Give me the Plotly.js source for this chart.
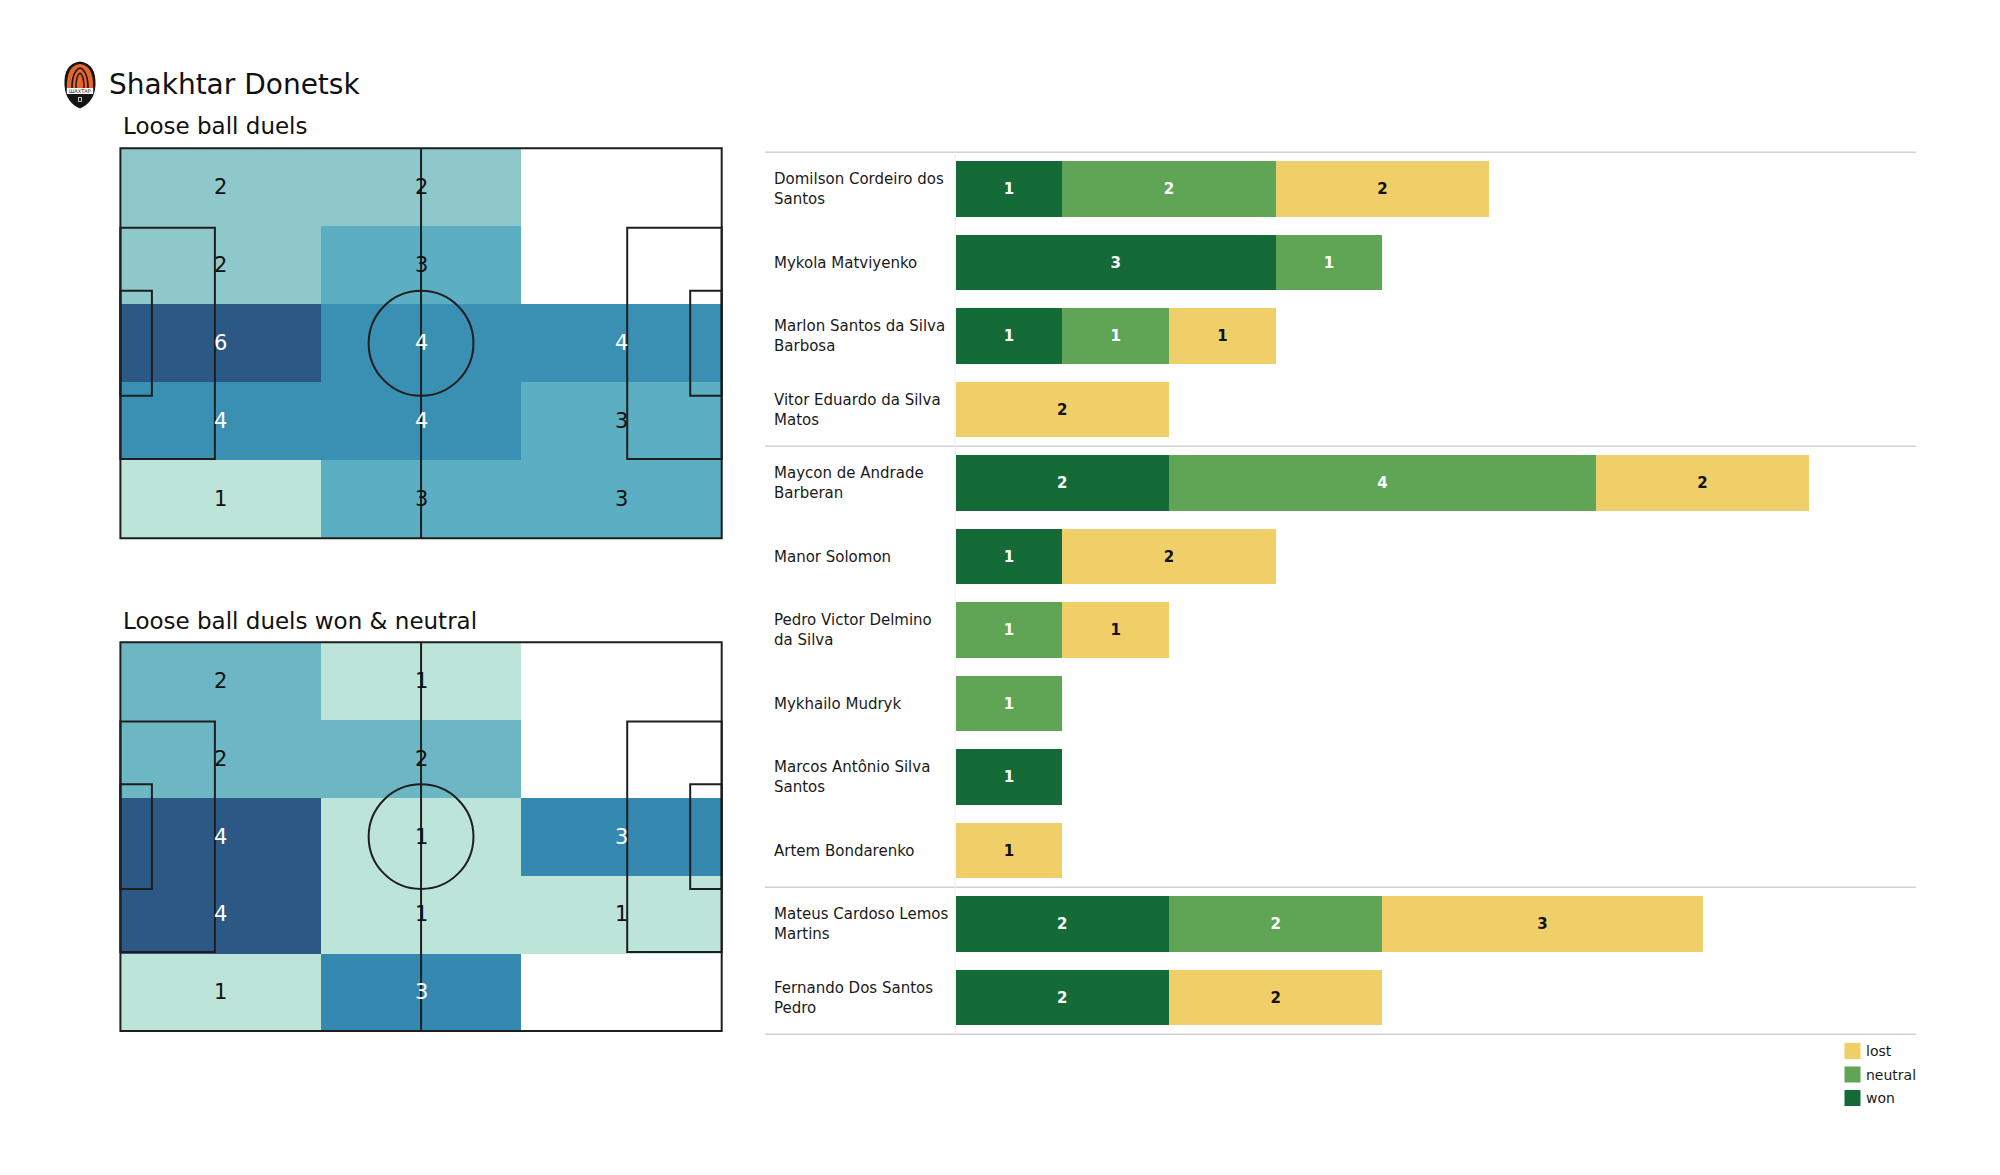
<!DOCTYPE html>
<html>
<head>
<meta charset="utf-8">
<script src="https://cdn.plot.ly/plotly-3.0.1.min.js"></script>
<style>
html,body{margin:0;padding:0;background:#ffffff;}
#chart{width:2000px;height:1175px;}
</style>
</head>
<body>
<div id="chart"></div>
<script>
// ---------------- DATA ----------------
const teamName = 'Shakhtar Donetsk';
const heatTitles = ['Loose ball duels', 'Loose ball duels won & neutral'];
// zone counts: rows top -> bottom, columns left -> right
const duelsAll = [
  [2, 2, 0],
  [2, 3, 0],
  [6, 4, 4],
  [4, 4, 3],
  [1, 3, 3]
];
const duelsWonNeutral = [
  [2, 1, 0],
  [2, 2, 0],
  [4, 1, 3],
  [4, 1, 1],
  [1, 3, 0]
];
const players = [
  'Domilson Cordeiro dos Santos',
  'Mykola Matviyenko',
  'Marlon Santos da Silva Barbosa',
  'Vitor Eduardo da Silva Matos',
  'Maycon de Andrade Barberan',
  'Manor Solomon',
  'Pedro Victor Delmino da Silva',
  'Mykhailo Mudryk',
  'Marcos Antônio Silva Santos',
  'Artem Bondarenko',
  'Mateus Cardoso Lemos Martins',
  'Fernando Dos Santos Pedro'
];
const won     = [1, 3, 1, 0, 2, 1, 0, 0, 1, 0, 2, 2];
const neutral = [2, 1, 1, 0, 4, 0, 1, 1, 0, 0, 2, 0];
const lost    = [2, 0, 1, 2, 2, 2, 1, 0, 0, 1, 3, 2];
const groupSizes = [4, 6, 2];
const seriesNames = ['won', 'neutral', 'lost'];

// ---------------- STYLE / LAYOUT CONSTANTS ----------------
const W = 2000, H = 1175;
const FONT = 'DejaVu Sans, Verdana, sans-serif';
const seriesColors = { won: '#156b37', neutral: '#60a556', lost: '#f0cf68' };
const seriesText = { won: '#ffffff', neutral: '#ffffff', lost: '#111111' };
const heatScale = [
  [0, '#bce4d9'], [0.2, '#8ec8ca'], [0.333, '#6db7c4'], [0.4, '#5caec3'],
  [0.6, '#3990b3'], [0.667, '#3589b0'], [1, '#2c5886']
];
const PL = 105, PW = 68, PAD = 0.6;
const pitchPx = [
  { l: 120.4, r: 721.7, t: 148.3, b: 538.3 },
  { l: 120.4, r: 721.7, t: 642.3, b: 1031.0 }
];
const barPx = { l: 955.6, r: 1916, t: 152.3, b: 1034.3, lineL: 765 };
const barMax = 9;

const fx = p => p / W;
const fy = p => 1 - p / H;

function wrap(s, w) {
  const words = s.split(' ');
  const lines = [];
  let cur = '';
  for (const wd of words) {
    if (!cur) cur = wd;
    else if ((cur + ' ' + wd).length <= w) cur += ' ' + wd;
    else { lines.push(cur); cur = wd; }
  }
  if (cur) lines.push(cur);
  return lines.join('<br>');
}

const traces = [];
const shapes = [];
const annotations = [];
const layout = {
  width: W, height: H,
  margin: { l: 0, r: 0, t: 0, b: 0 },
  paper_bgcolor: '#ffffff', plot_bgcolor: 'rgba(0,0,0,0)',
  showlegend: false, hovermode: false,
  font: { family: FONT, color: '#111111' },
  barmode: 'stack', bargap: 0.25
};

// ---------------- HEATMAPS ----------------
[duelsAll, duelsWonNeutral].forEach((grid, k) => {
  const px = pitchPx[k];
  const sx = (px.r - px.l) / PL, sy = (px.b - px.t) / PW;
  const xa = k === 0 ? 'x' : 'x2', ya = k === 0 ? 'y' : 'y2';
  const xName = k === 0 ? 'xaxis' : 'xaxis2', yName = k === 0 ? 'yaxis' : 'yaxis2';
  const nR = grid.length, nC = grid[0].length;
  const xc = Array.from({ length: nC }, (_, j) => PL / nC * (j + 0.5));
  const yc = Array.from({ length: nR }, (_, i) => PW / nR * (i + 0.5));
  const flat = grid.flat().filter(v => v > 0);
  const zmin = Math.min(...flat), zmax = Math.max(...flat);
  traces.push({
    type: 'heatmap', x: xc, y: yc,
    z: grid.map(r => r.map(v => v > 0 ? v : null)),
    colorscale: heatScale, zmin: zmin, zmax: zmax, showscale: false,
    hoverinfo: 'skip', xaxis: xa, yaxis: ya
  });
  layout[xName] = {
    domain: [fx(px.l - PAD * sx), fx(px.r + PAD * sx)], range: [-PAD, PL + PAD],
    visible: false, anchor: ya, fixedrange: true
  };
  layout[yName] = {
    domain: [fy(px.b + PAD * sy), fy(px.t - PAD * sy)], range: [PW + PAD, -PAD],
    visible: false, anchor: xa, fixedrange: true
  };
  // cell labels
  grid.forEach((row, i) => row.forEach((v, j) => {
    if (v <= 0) return;
    const f = (v - zmin) / (zmax - zmin);
    annotations.push({
      xref: xa, yref: ya, x: xc[j], y: yc[i], text: String(v), showarrow: false,
      xanchor: 'center', yanchor: 'middle',
      font: { family: FONT, size: 21, color: f > 0.5 ? '#ffffff' : '#111111' }
    });
  }));
  // pitch markings
  const ln = { color: '#1e1e1e', width: 2 };
  const add = (type, x0, y0, x1, y1) => shapes.push({ type, xref: xa, yref: ya, x0, y0, x1, y1, line: ln, fillcolor: 'rgba(0,0,0,0)', layer: 'above' });
  add('rect', 0, 0, PL, PW);
  add('line', PL / 2, 0, PL / 2, PW);
  add('circle', PL / 2 - 9.15, PW / 2 - 9.15, PL / 2 + 9.15, PW / 2 + 9.15);
  add('rect', 0, PW / 2 - 20.16, 16.5, PW / 2 + 20.16);
  add('rect', PL - 16.5, PW / 2 - 20.16, PL, PW / 2 + 20.16);
  add('rect', 0, PW / 2 - 9.16, 5.5, PW / 2 + 9.16);
  add('rect', PL - 5.5, PW / 2 - 9.16, PL, PW / 2 + 9.16);
});

// ---------------- STACKED BARS ----------------
const series = { won, neutral, lost };
seriesNames.forEach(name => {
  const vals = series[name];
  traces.push({
    type: 'bar', orientation: 'h', name: name,
    y: players, x: vals,
    text: vals.map(v => v > 0 ? String(v) : ''),
    texttemplate: '%{text}',
    textposition: 'inside', insidetextanchor: 'middle', textangle: 0,
    constraintext: 'none',
    textfont: { family: FONT, size: 15, weight: 'bold', color: seriesText[name] },
    marker: { color: seriesColors[name], line: { width: 0 } },
    hoverinfo: 'skip', xaxis: 'x3', yaxis: 'y3'
  });
});
const rowPx = (barPx.b - barPx.t) / players.length;
const bPad = 0.1;
layout.xaxis3 = {
  domain: [fx(barPx.l), fx(barPx.r)], range: [0, barMax],
  visible: false, anchor: 'y3', fixedrange: true
};
layout.yaxis3 = {
  domain: [fy(barPx.b + bPad * rowPx), fy(barPx.t - bPad * rowPx)],
  type: 'category', categoryorder: 'array', categoryarray: players,
  range: [players.length - 0.5 + bPad, -0.5 - bPad],
  visible: false, anchor: 'x3', fixedrange: true
};
// player names
players.forEach((p, i) => {
  annotations.push({
    xref: 'paper', yref: 'y3', x: fx(771.5), y: i, text: wrap(p, 22),
    showarrow: false, xanchor: 'left', yanchor: 'middle', align: 'left',
    font: { family: FONT, size: 15, color: '#1a1a1a' }
  });
});
// group separators
let acc = -0.5;
const bounds = [acc];
groupSizes.forEach(g => { acc += g; bounds.push(acc); });
bounds.forEach(b => shapes.push({
  type: 'line', xref: 'paper', yref: 'y3', x0: fx(barPx.lineL), x1: fx(barPx.r), y0: b, y1: b,
  line: { color: '#d2d2d2', width: 1.5 }, layer: 'below'
}));
// faint name-column divider
shapes.push({
  type: 'line', xref: 'paper', yref: 'y3', x0: fx(barPx.l - 0.5), x1: fx(barPx.l - 0.5),
  y0: -0.5, y1: players.length - 0.5, line: { color: '#eeeeee', width: 1 }, layer: 'below'
});

// ---------------- CUSTOM LEGEND ----------------
seriesNames.slice().reverse().forEach((name, i) => {
  const top = 1043 + i * 23.5;
  shapes.push({
    type: 'rect', xref: 'paper', yref: 'paper',
    x0: fx(1844.5), x1: fx(1860.5), y0: fy(top + 16), y1: fy(top),
    fillcolor: seriesColors[name], line: { width: 0 }
  });
  annotations.push({
    xref: 'paper', yref: 'paper', x: fx(1864), y: fy(top + 8), text: name,
    showarrow: false, xanchor: 'left', yanchor: 'middle',
    font: { family: FONT, size: 14, color: '#1a1a1a' }
  });
});

// ---------------- TITLES ----------------
annotations.push({
  xref: 'paper', yref: 'paper', x: fx(107), y: fy(84), text: teamName,
  showarrow: false, xanchor: 'left', yanchor: 'middle',
  font: { family: FONT, size: 28, color: '#111111' }
});
[125.6, 620.5].forEach((yc, k) => annotations.push({
  xref: 'paper', yref: 'paper', x: fx(120.5), y: fy(yc), text: heatTitles[k],
  showarrow: false, xanchor: 'left', yanchor: 'middle',
  font: { family: FONT, size: 23, color: '#111111' }
}));

// ---------------- LOGO (drawn badge) ----------------
function P(cmds) {
  return cmds.map(c => {
    if (typeof c === 'string') return c;
    const out = [];
    for (let i = 0; i < c.length; i += 2) out.push(fx(c[i]).toFixed(5) + ',' + fy(c[i + 1]).toFixed(5));
    return out.join(' ');
  }).join(' ');
}
const logoShape = (path, fill, line) => shapes.push({
  type: 'path', xref: 'paper', yref: 'paper', path: path,
  fillcolor: fill, line: line || { width: 0 }, layer: 'above'
});
logoShape(P(['M', [80, 61.5], 'C', [92, 63, 96, 72, 95.5, 85], 'C', [95, 98, 88, 105, 80, 108.5],
  'C', [72, 105, 65, 98, 64.5, 85], 'C', [64, 72, 68, 63, 80, 61.5], 'Z']), '#151515');
logoShape(P(['M', [80, 64], 'C', [90, 65.5, 93.2, 73, 93.2, 88], 'L', [66.8, 88], 'C', [66.8, 73, 70, 65.5, 80, 64], 'Z']), '#e8642c');
logoShape(P(['M', [66.8, 88], 'L', [93.2, 88], 'L', [93.2, 94], 'L', [66.8, 94], 'Z']), '#ffffff');
logoShape(P(['M', [72, 88], 'C', [72, 75, 76, 69, 80, 68], 'C', [84, 69, 88, 75, 88, 88]]), 'rgba(0,0,0,0)', { color: '#151515', width: 1.6 });
logoShape(P(['M', [76, 88], 'C', [76, 79, 78, 74, 80, 73], 'C', [82, 74, 84, 79, 84, 88]]), 'rgba(0,0,0,0)', { color: '#151515', width: 1.4 });
logoShape(P(['M', [78.5, 97.5], 'L', [81.5, 97.5], 'L', [81.5, 101.5], 'L', [78.5, 101.5], 'Z']), 'rgba(0,0,0,0)', { color: '#ffffff', width: 0.8 });
annotations.push({
  xref: 'paper', yref: 'paper', x: fx(80), y: fy(91), text: 'ШАХТАР', showarrow: false,
  xanchor: 'center', yanchor: 'middle', font: { family: FONT, size: 5, color: '#151515' }
});

layout.shapes = shapes;
layout.annotations = annotations;

Plotly.newPlot('chart', traces, layout, { displayModeBar: false, staticPlot: true, responsive: false });
</script>
</body>
</html>
